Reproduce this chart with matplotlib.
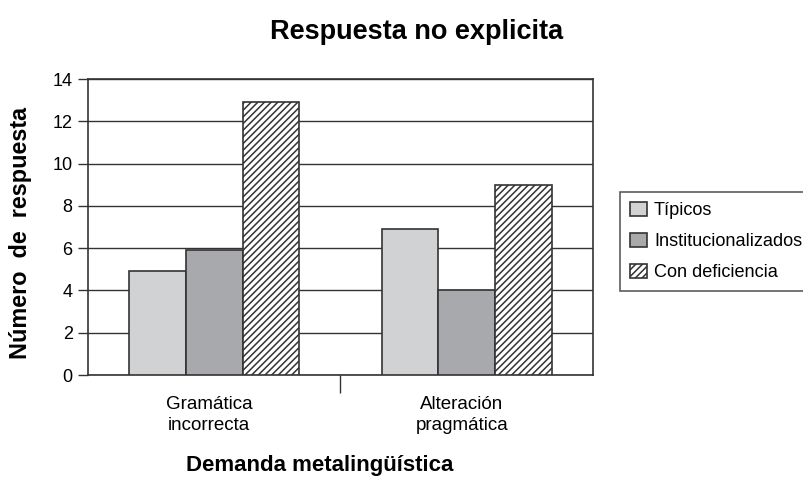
import matplotlib.pyplot as plt
import numpy as np

plt.rcParams['font.family'] = ['Liberation Sans', 'DejaVu Sans']
plt.rcParams['hatch.linewidth'] = 1.1

# Respuestas por grupo y tipo de demanda
categorias = ['Gramática\nincorrecta', 'Alteración\npragmática']
grupos = ['Típicos', 'Institucionalizados', 'Con deficiencia']
tipicos = [4.9, 6.9]
institucionalizados = [5.9, 4.0]
con_deficiencia = [12.9, 9.0]

fig = plt.figure(figsize=(8.04, 4.87), dpi=100)
ax = fig.add_axes([88 / 804, 1 - 375 / 487, 505 / 804, 296 / 487])

x = np.arange(len(categorias)) + 0.5
w = 0.224
edge = '#333333'
ax.bar(x - w, tipicos, w, color='#d1d2d4', edgecolor=edge, linewidth=1.2, label=grupos[0], zorder=3)
ax.bar(x, institucionalizados, w, color='#a8a9ac', edgecolor=edge, linewidth=1.2, label=grupos[1], zorder=3)
ax.bar(x + w, con_deficiencia, w, color='white', edgecolor=edge, hatch='/////', linewidth=1.2,
       label=grupos[2], zorder=3)

ax.set_xlim(0, 2)
ax.set_ylim(0, 14)
ax.set_yticks(range(0, 15, 2))
ax.tick_params(axis='y', labelsize=13, length=7, width=1, color='#333333', pad=4)
ax.yaxis.grid(True, color='#333333', linewidth=1, zorder=0)

# marca entre categorías
ax.set_xticks([1])
ax.set_xticklabels([''])
ax.tick_params(axis='x', length=13, width=1, color='#333333')
for xi, lab in zip(x, categorias):
    ax.text(xi - 0.02, -1.0, lab, ha='center', va='top', fontsize=13.5, linespacing=1.3)

for s in ax.spines.values():
    s.set_color('#333333')
    s.set_linewidth(1.2)

fig.text(417 / 804, 1 - 32 / 487, 'Respuesta no explicita', ha='center', va='center',
         fontsize=19.5, fontweight='bold')
fig.text(320 / 804, 1 - 466 / 487, 'Demanda metalingüística', ha='center', va='center',
         fontsize=16, fontweight='bold')
fig.text(21 / 804, 1 - 233 / 487, 'Número  de  respuesta', ha='center', va='center', rotation=90,
         fontsize=16.8, fontweight='bold')

leg = fig.legend(loc='upper left', bbox_to_anchor=(620 / 804, 1 - 192 / 487), fontsize=13.1,
                 frameon=True, fancybox=False, edgecolor='#333333', handlelength=0.92, handleheight=0.82,
                 handletextpad=0.4, borderpad=0.55, labelspacing=0.75, borderaxespad=0)
leg.get_frame().set_linewidth(1.2)

fig.savefig('out.png', dpi=100)
